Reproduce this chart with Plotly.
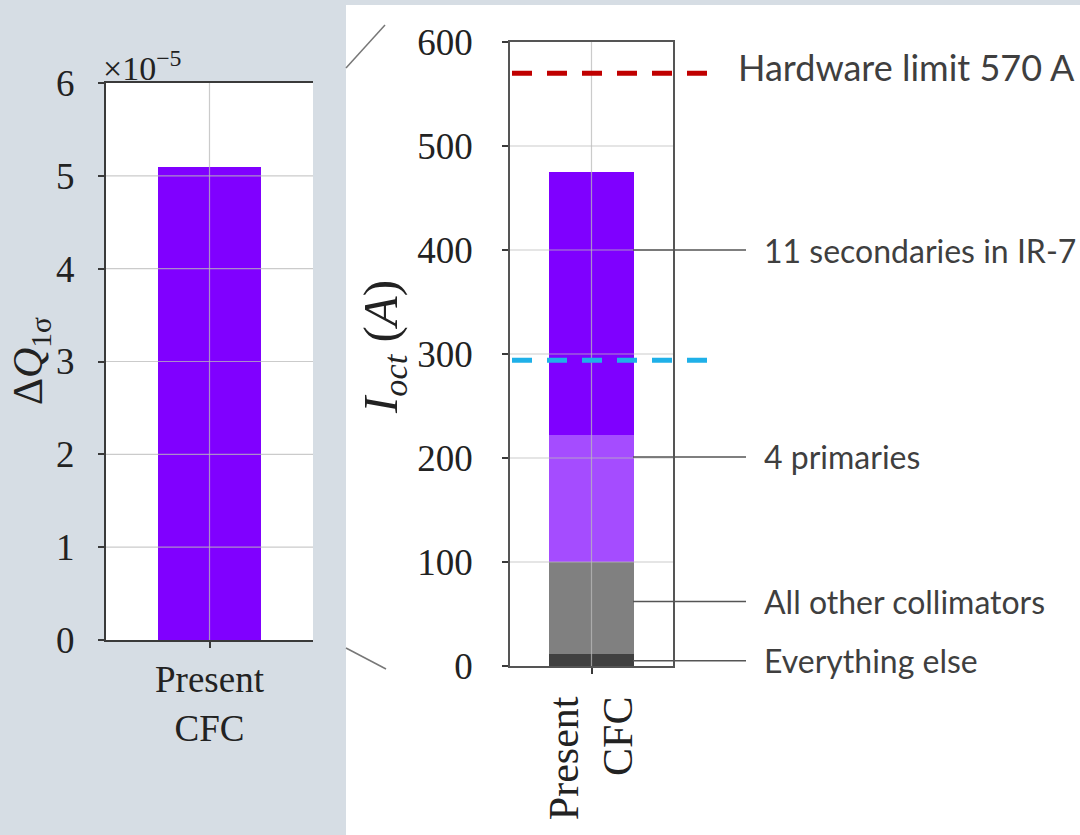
import plotly.graph_objects as go

# ---- data ----
categories = ["Present<br>CFC"]
dq_1sigma = [5.1e-5]                      # tune shift, left panel
dq_ticks = [0, 1, 2, 3, 4, 5, 6]          # in units of 1e-5
dq_unit = 1e-5

components = ["Everything else", "All other collimators", "4 primaries", "11 secondaries in IR-7"]
i_oct = [12, 88, 122, 253]                # stacked octupole current contributions (A)
i_ticks = [0, 100, 200, 300, 400, 500, 600]

hardware_limit = 570                      # A
blue_level = 294                          # A

# ---- styling ----
W, H = 1080, 835
SERIF = "Liberation Serif"
SANS = "Lato"
seg_colors = ["#404040", "#808080", "#a54cff", "#7f00ff"]
label_y = [5, 62, 201, 400]               # where leader lines meet the labels (y2 units)

def px(x):
    return x / W

def py(y):
    return 1 - y / H

left_dom_x = [px(106), px(313)]
left_dom_y = [py(640), py(83)]
right_dom_x = [px(510), px(673)]
right_dom_y = [py(666), py(42)]

fig = go.Figure()

fig.add_trace(go.Bar(
    x=[0], y=dq_1sigma, width=0.5, marker=dict(color="#8000ff", line=dict(width=0)),
    xaxis="x", yaxis="y", showlegend=False,
))

for name, val, col in zip(components, i_oct, seg_colors):
    fig.add_trace(go.Bar(
        x=[0], y=[val], width=0.52, name=name,
        marker=dict(color=col, line=dict(width=0)),
        xaxis="x2", yaxis="y2", showlegend=False,
    ))

axis_common = dict(
    showline=True, linecolor="#3a3a3a", linewidth=2,
    ticks="outside", ticklen=6, tickcolor="#3a3a3a", tickwidth=1.5,
    showgrid=False, zeroline=False, automargin=False,
    tickfont=dict(family=SERIF, size=37, color="#222"),
)
right_axis = {**axis_common, "linecolor": "#555", "linewidth": 1.5}

fig.update_layout(
    width=W, height=H,
    margin=dict(l=0, r=0, t=0, b=0, pad=0),
    paper_bgcolor="#d6dde4",
    plot_bgcolor="white",
    barmode="stack",
    xaxis=dict(domain=left_dom_x, range=[-0.5, 0.5], tickvals=[0], ticktext=categories,
               mirror=True, anchor="y", ticklabelstandoff=0, **axis_common),
    yaxis=dict(domain=left_dom_y, range=[0, 6 * dq_unit],
               tickvals=[t * dq_unit for t in dq_ticks], ticktext=[str(t) for t in dq_ticks],
               anchor="x", ticklabelstandoff=16, **axis_common),
    xaxis2=dict(domain=right_dom_x, range=[-0.5, 0.5], tickvals=[0], ticktext=categories,
                tickangle=-90, mirror=True, anchor="y2", ticklabelstandoff=6,
                **{**right_axis, "tickfont": dict(family=SERIF, size=42, color="#222")}),
    yaxis2=dict(domain=right_dom_y, range=[0, 600], tickvals=i_ticks,
                mirror=True, anchor="x2", ticklabelstandoff=22, **right_axis),
)

shapes = []
# white panel behind the right subplot
shapes.append(dict(type="rect", xref="paper", yref="paper", x0=px(346), x1=1, y0=0, y1=py(5),
                   fillcolor="white", line=dict(width=0), layer="below"))

# grid lines drawn over the bars
grid_col = "rgba(185,185,185,0.75)"
for t in dq_ticks[1:-1]:
    shapes.append(dict(type="line", xref="x", yref="y", x0=-0.5, x1=0.5, y0=t * dq_unit, y1=t * dq_unit,
                       line=dict(color=grid_col, width=1.2), layer="above"))
shapes.append(dict(type="line", xref="x", yref="y", x0=0, x1=0, y0=0, y1=6 * dq_unit,
                   line=dict(color=grid_col, width=1.2), layer="above"))
for t in i_ticks[1:-1]:
    shapes.append(dict(type="line", xref="x2", yref="y2", x0=-0.5, x1=0.5, y0=t, y1=t,
                       line=dict(color=grid_col, width=1.2), layer="above"))
shapes.append(dict(type="line", xref="x2", yref="y2", x0=0, x1=0, y0=0, y1=600,
                   line=dict(color=grid_col, width=1.2), layer="above"))

# dashed reference levels
shapes.append(dict(type="line", xref="paper", yref="y2", x0=px(512), x1=px(722),
                   y0=hardware_limit, y1=hardware_limit,
                   line=dict(color="#c00000", width=5, dash="20px,15px"), layer="above"))
shapes.append(dict(type="line", xref="paper", yref="y2", x0=px(512), x1=px(722),
                   y0=blue_level, y1=blue_level,
                   line=dict(color="#1fb0e8", width=5, dash="20px,15px"), layer="above"))

# leader lines from the bar to the labels
for yv in label_y:
    shapes.append(dict(type="line", xref="paper", yref="y2", x0=px(633), x1=px(746), y0=yv, y1=yv,
                       line=dict(color="#555", width=1.5), layer="above"))

# zoom indicator strokes
shapes.append(dict(type="line", xref="paper", yref="paper", x0=px(346), y0=py(68), x1=px(385), y1=py(25),
                   line=dict(color="#777", width=1.5)))
shapes.append(dict(type="line", xref="paper", yref="paper", x0=px(346), y0=py(648), x1=px(386), y1=py(669),
                   line=dict(color="#777", width=1.5)))

fig.update_layout(shapes=shapes)

annotations = [
    dict(text="Δ<i>Q</i><sub>1σ</sub>", xref="paper", yref="paper", x=px(31), y=py(361),
         xanchor="center", yanchor="middle",
         textangle=-90, showarrow=False, font=dict(family=SERIF, size=42, color="#222")),
    dict(text="<i>I<sub>oct</sub></i> (<i>A</i>)", xref="paper", yref="paper", x=px(383), y=py(347),
         xanchor="center", yanchor="middle",
         textangle=-90, showarrow=False, font=dict(family=SERIF, size=49, color="#222")),
    dict(text="×10<sup>−5</sup>", xref="paper", yref="paper", x=px(101), y=py(89),
         xanchor="left", yanchor="bottom", showarrow=False,
         font=dict(family=SERIF, size=34, color="#222")),
    dict(text=f"Hardware limit {hardware_limit} A", xref="paper", yref="y2", x=px(736), y=hardware_limit,
         xanchor="left", yanchor="middle", yshift=6, showarrow=False,
         font=dict(family=SANS, size=36, color="#3f3f3f")),
]
for name, yv in zip(components, label_y):
    annotations.append(dict(text=name, xref="paper", yref="y2", x=px(762), y=yv,
                            xanchor="left", yanchor="middle", showarrow=False,
                            font=dict(family=SANS, size=32, color="#3f3f3f")))
fig.update_layout(annotations=annotations)

fig.write_html("out.html")
